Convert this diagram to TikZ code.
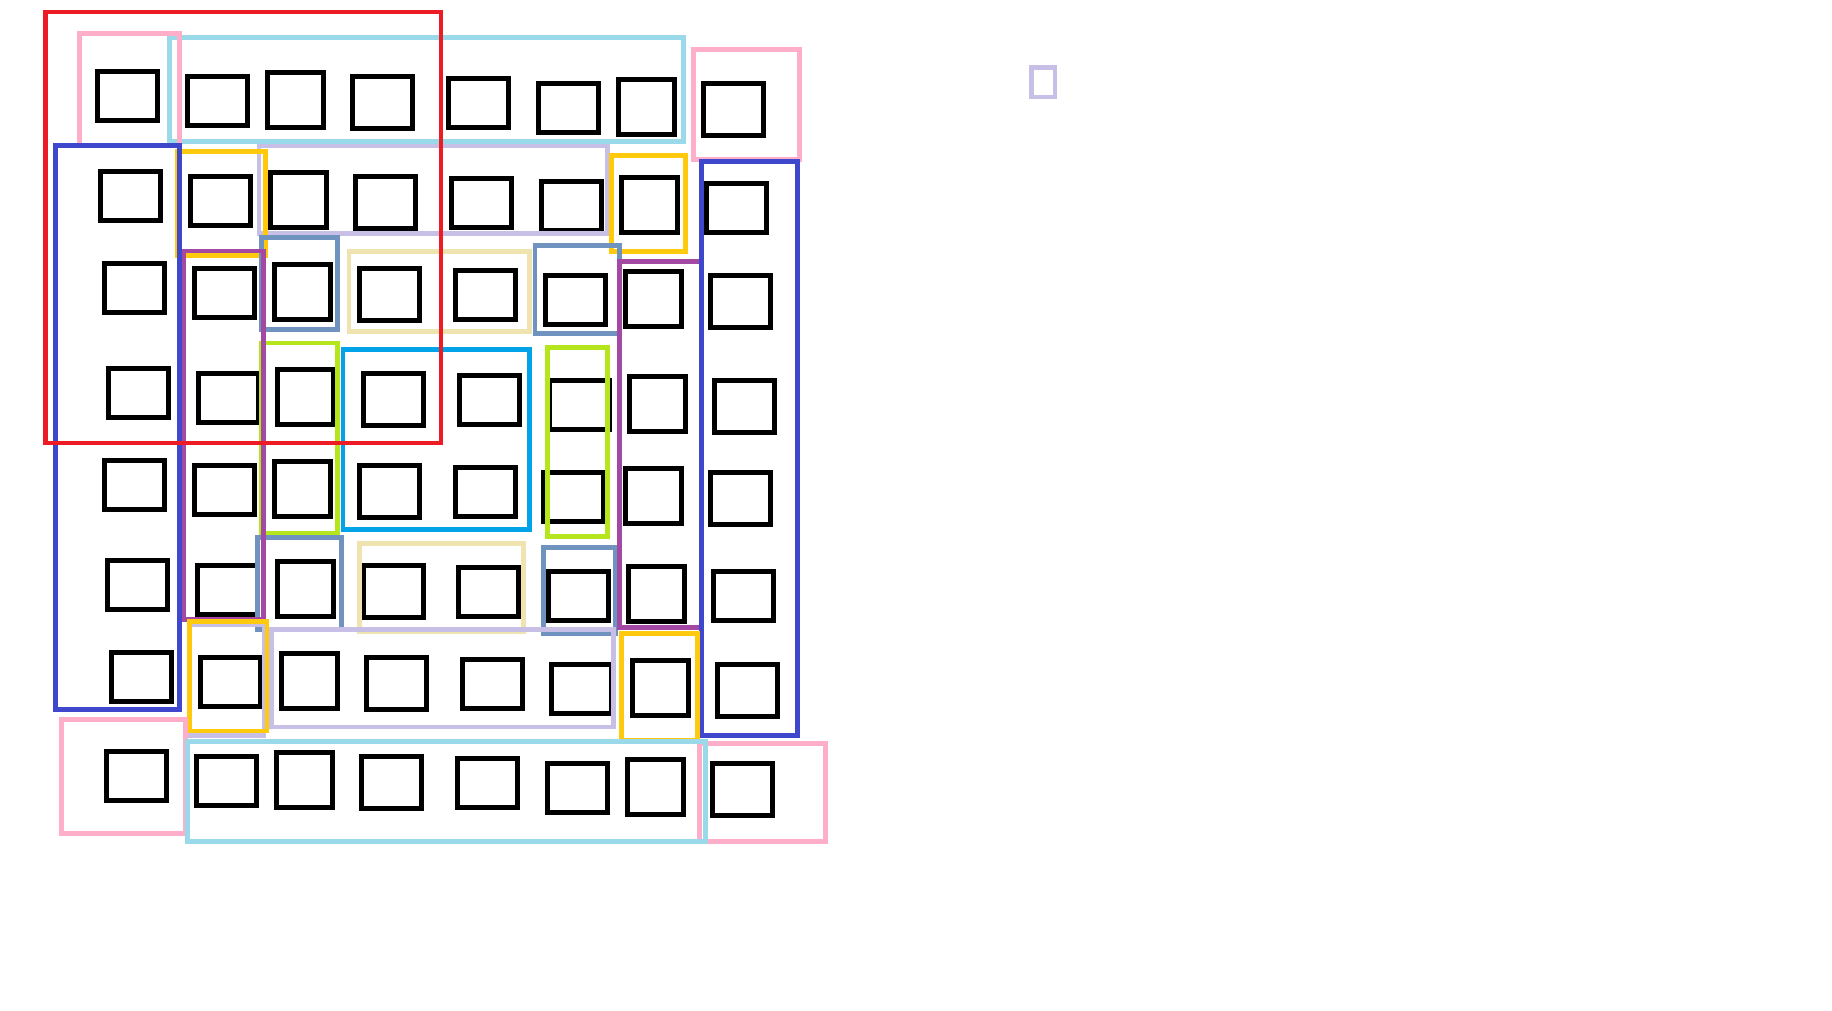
\documentclass[tikz,border=0pt]{standalone}
\usepackage{tikz}

\definecolor{redc}{HTML}{ED1C24}
\definecolor{pinkc}{HTML}{FFAEC9}
\definecolor{skyc}{HTML}{99D9EA}
\definecolor{bluec}{HTML}{3F48CC}
\definecolor{yellowc}{HTML}{FFC90E}
\definecolor{lavc}{HTML}{C8BFE7}
\definecolor{steelc}{HTML}{7092BE}
\definecolor{purplec}{HTML}{A349A4}
\definecolor{wheatc}{HTML}{EFE4B0}
\definecolor{greenc}{HTML}{B5E61D}
\definecolor{cyanc}{HTML}{00A2E8}

\tikzset{
        wbox/.style={minimum width=60pt, minimum height=49pt},
        sbox/.style={minimum width=56pt, minimum height=55pt},
        mbox/.style={minimum width=60pt, minimum height=52pt}
}

\begin{document}
\begin{tikzpicture}[x=1pt,y=-1pt]
                \fill[white] (0,0) rectangle (1832,1010);
                \begin{scope}[every node/.style={draw, line width=5pt, inner sep=0}]
                        \node[wbox] (b11) at (127.3,95.8) {};
                        \node[wbox] (b12) at (217,100.8) {};
                        \node[sbox] (b13) at (295.5,99.8) {};
                        \node[mbox] (b14) at (382.7,102.5) {};
                        \node[wbox] (b15) at (478.5,103) {};
                        \node[wbox] (b16) at (568,108) {};
                        \node[sbox] (b17) at (646.7,107) {};
                        \node[mbox] (b18) at (733.5,109.3) {};

                        \node[wbox] (b21) at (130.5,196) {};
                        \node[wbox] (b22) at (220,201) {};
                        \node[sbox] (b23) at (298.7,200) {};
                        \node[mbox] (b24) at (385.5,202.3) {};
                        \node[wbox] (b25) at (481.5,203) {};
                        \node[wbox] (b26) at (571,206) {};
                        \node[sbox] (b27) at (649.3,205.3) {};
                        \node[wbox] (b28) at (736.5,207.5) {};

                        \node[wbox] (b31) at (134.3,287.7) {};
                        \node[wbox] (b32) at (224,292.7) {};
                        \node[sbox] (b33) at (302.5,292) {};
                        \node[mbox] (b34) at (389.5,294.3) {};
                        \node[wbox] (b35) at (485.5,295) {};
                        \node[wbox] (b36) at (575,300) {};
                        \node[sbox] (b37) at (653.3,298.8) {};
                        \node[mbox] (b38) at (740.3,301.5) {};

                        \node[wbox] (b41) at (138.3,392.8) {};
                        \node[wbox] (b42) at (228,397.8) {};
                        \node[sbox] (b43) at (305.7,396.8) {};
                        \node[mbox] (b44) at (393.5,399.3) {};
                        \node[wbox] (b45) at (489.5,399.8) {};
                        \node[wbox] (b46) at (579.3,404.8) {};
                        \node[sbox] (b47) at (657.5,403.8) {};
                        \node[mbox] (b48) at (744.3,406.3) {};

                        \node[wbox] (b51) at (134.3,485) {};
                        \node[wbox] (b52) at (224,489.8) {};
                        \node[sbox] (b53) at (302.5,489) {};
                        \node[mbox] (b54) at (389.5,491.3) {};
                        \node[wbox] (b55) at (485.3,491.8) {};
                        \node[wbox] (b56) at (573.7,496.8) {};
                        \node[sbox] (b57) at (653.3,496) {};
                        \node[mbox] (b58) at (740.3,498.5) {};

                        \node[wbox] (b61) at (137.5,585) {};
                        \node[wbox] (b62) at (227,590) {};
                        \node[sbox] (b63) at (305.3,588.8) {};
                        \node[mbox] (b64) at (393.3,591.5) {};
                        \node[wbox] (b65) at (488.3,591.8) {};
                        \node[wbox] (b66) at (578.3,596.3) {};
                        \node[sbox] (b67) at (656.3,594.3) {};
                        \node[wbox] (b68) at (743.5,596.3) {};

                        \node[wbox] (b71) at (141.5,677) {};
                        \node[wbox] (b72) at (230.7,681.8) {};
                        \node[sbox] (b73) at (309.3,680.8) {};
                        \node[mbox] (b74) at (396.5,683.3) {};
                        \node[wbox] (b75) at (492.5,683.8) {};
                        \node[wbox] (b76) at (581.2,688.8) {};
                        \node[sbox] (b77) at (660.5,687.8) {};
                        \node[mbox] (b78) at (747.5,690.3) {};

                        \node[wbox] (b81) at (136.5,775.8) {};
                        \node[wbox] (b82) at (226,780.8) {};
                        \node[sbox] (b83) at (304.5,779.8) {};
                        \node[mbox] (b84) at (391.5,782.3) {};
                        \node[wbox] (b85) at (487.5,782.8) {};
                        \node[wbox] (b86) at (577,787.8) {};
                        \node[sbox] (b87) at (655.5,787) {};
                        \node[mbox] (b88) at (742.5,789.3) {};
                \end{scope}
                \begin{scope}[every path/.style={line width=4.5pt}]
                        \draw[skyc] (169.5,37.3) rectangle (683.3,141.3);
                        \draw[pinkc] (79.3,33.3) rectangle (179.7,145);
                        \draw[pinkc] (693.3,49.3) rectangle (799.3,159.3);
                        \draw[lavc] (259,146) rectangle (607.3,233.3);
                        \draw[yellowc] (177,151.3) rectangle (265.7,255.3);
                        \draw[yellowc] (611.3,155.3) rectangle (685.3,251.3);

                        \draw[steelc] (261.3,237.7) rectangle (337.7,329.3);
                        \draw[steelc] (535,245.3) rectangle (619.3,333.3);
                        \draw[wheatc] (349,251.3) rectangle (529.3,331.3);
                        \draw[greenc] (261,343) rectangle (337.7,533.3);
                        \draw[greenc] (547.3,347.3) rectangle (607.3,536.7);
                        \draw[cyanc] (343,349.3) rectangle (529.3,529.3);
                        \draw[steelc] (257.3,537.3) rectangle (341.3,629.5);
                        \draw[steelc] (543.3,547.3) rectangle (615.3,633.3);
                        \draw[wheatc] (359.3,543.3) rectangle (523.3,631.3);

                        \draw[purplec] (183.5,251) rectangle (263.5,619.3);
                        \draw[purplec] (619.3,261.3) rectangle (701,627.3);
                        \draw[bluec] (55.3,145.3) rectangle (179.5,709.3);
                        \draw[bluec] (701.3,161.3) rectangle (797.3,735.3);

                        \draw[lavc] (271.3,629.3) rectangle (613.3,727.2);
                        \draw[lavc] (190,625) rectangle (264,735.3);
                        \draw[yellowc] (189.7,621.7) rectangle (267,731);
                        \draw[yellowc] (621.3,633.3) rectangle (697.3,740);
                        \draw[pinkc] (61.3,719.3) rectangle (185.3,833.3);
                        \draw[pinkc] (699.7,743.3) rectangle (825.3,841.3);
                        \draw[skyc] (187.3,741.3) rectangle (705.3,841.3);

                        \draw[redc] (45.3,12) rectangle (441,443);
                        \draw[lavc, line width=4.8pt] (1031.7,67.7) rectangle (1055,97);
                \end{scope}
        \end{tikzpicture}
\end{document}
